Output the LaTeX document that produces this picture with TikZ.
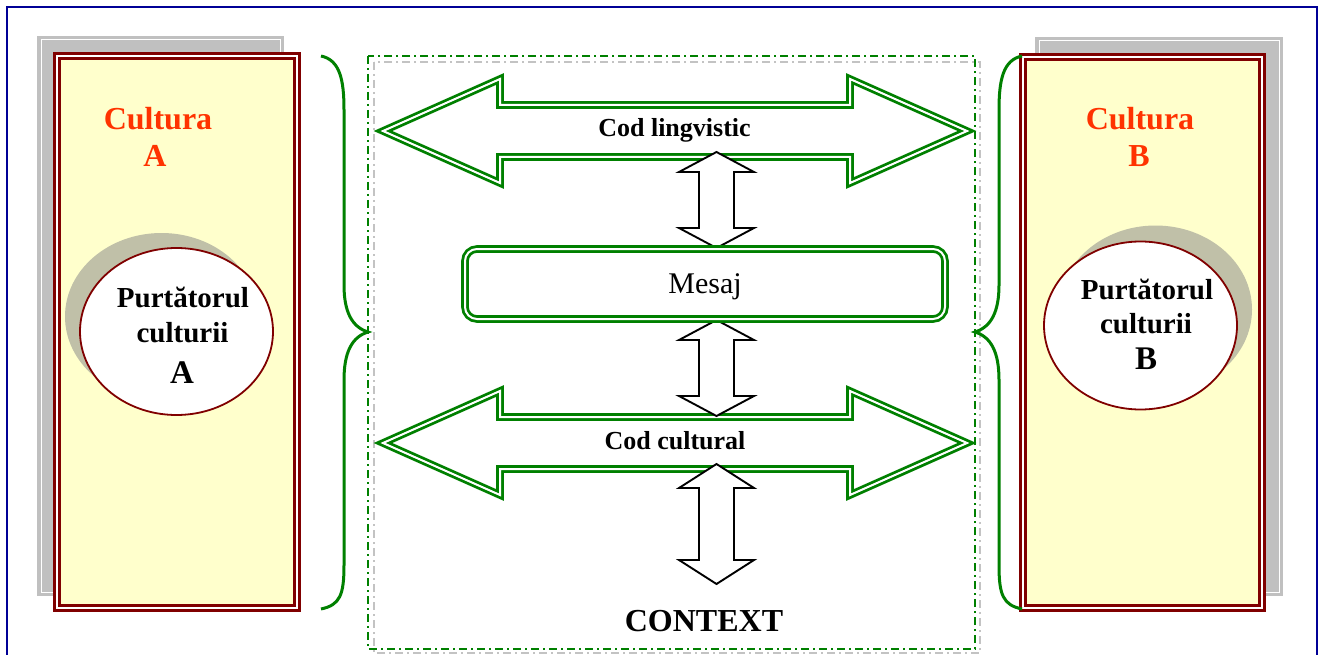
\documentclass[tikz,border=0pt]{standalone}
\usepackage{fontspec}
\setmainfont{Liberation Serif}
\usetikzlibrary{shapes.geometric}

\definecolor{frameblue}{RGB}{0,0,150}
\definecolor{panelred}{RGB}{128,0,0}
\definecolor{panelfill}{RGB}{255,255,204}
\definecolor{titlered}{RGB}{255,51,0}
\definecolor{panelshade}{RGB}{192,192,192}
\definecolor{bubbleshade}{RGB}{192,192,168}
\definecolor{codegreen}{RGB}{0,128,0}
\definecolor{zonegray}{RGB}{195,195,195}

% horizontal double-headed code arrow centred on height #1
\newcommand{\codearrow}[1]{%
  \draw[codearrow] (383,#1) -- (500,#1-52) -- (500,#1-26) -- (850,#1-26)
    -- (850,#1-52) -- (967,#1) -- (850,#1+52) -- (850,#1+26)
    -- (500,#1+26) -- (500,#1+52) -- cycle;}
% vertical double-headed link arrow: top tip #1, bottom tip #2, head length #3
\newcommand{\linkarrow}[3]{%
  \draw[linkarrow] (716.5,#1) -- (754,#1+#3) -- (734,#1+#3) -- (734,#2-#3)
    -- (754,#2-#3) -- (716.5,#2) -- (679,#2-#3) -- (699,#2-#3)
    -- (699,#1+#3) -- (679,#1+#3) -- cycle;}

\begin{document}
\begin{tikzpicture}[x=1pt,y=-1pt,
  panelback/.style={fill=panelshade},
  panelline/.style={draw=white, line width=1pt},
  panel/.style={draw=panelred, line width=3.2pt, double=white, double distance=2pt, fill=panelfill},
  bubble/.style={ellipse, draw=panelred, line width=1.8pt, fill=white, inner sep=0pt,
    minimum width=193pt, minimum height=167pt},
  zone/.style={line width=2.6pt, dash pattern=on 8pt off 4pt on 2pt off 4pt},
  brace/.style={draw=codegreen, line width=3pt},
  codearrow/.style={draw=codegreen, line width=2.8pt, double=white, double distance=2pt, line join=miter},
  linkarrow/.style={draw=black, line width=1.9pt, fill=white, line join=miter},
  msgbox/.style={draw=codegreen, line width=2.8pt, double=white, double distance=2pt,
    rounded corners=12pt, minimum width=480pt, minimum height=70pt, inner sep=0pt},
  culture/.style={text=titlered, font=\fontsize{32}{36}\selectfont\bfseries, anchor=base, inner sep=0pt},
  carrier/.style={font=\fontsize{29}{33}\selectfont\bfseries, anchor=base, inner sep=0pt},
  carrierletter/.style={font=\fontsize{33}{37}\selectfont\bfseries, anchor=base, inner sep=0pt},
  codelabel/.style={font=\fontsize{26}{30}\selectfont\bfseries, anchor=base, inner sep=0pt}
]
\useasboundingbox (0,0) rectangle (1324,655);

% outer frame
\draw[frameblue, line width=2.8pt] (7,656) -- (7,7) -- (1317,7) -- (1317,656);

% central zone
\draw[zone, zonegray] (374,62) rectangle (980,653);
\draw[zone, codegreen] (368,56) rectangle (975,649);

% culture A panel
\fill[panelback] (37,36) rectangle (284,596);
\draw[panelline] (41,40) rectangle (280,592);
\draw[panel] (57,56) rectangle (297,608);
\node[culture] (cultA) at (158,130) {Cultura};
\node[culture] (cultAletter) at (155,167) {A};
\fill[bubbleshade] (161.5,316.5) ellipse [x radius=96.5, y radius=83.5];
\node[bubble] (carrierA) at (176.5,331.5) {};
\node[carrier] (carrierAl1) at (183,307) {Purtătorul};
\node[carrier] (carrierAl2) at (182.5,342) {culturii};
\node[carrierletter] (carrierAl3) at (182,383) {A};

% culture B panel
\fill[panelback] (1035,37) rectangle (1283,596);
\draw[panelline] (1039,41) rectangle (1279,592);
\draw[panel] (1023,57) rectangle (1262,608);
\node[culture] (cultB) at (1140,130) {Cultura};
\node[culture] (cultBletter) at (1139,167) {B};
\fill[bubbleshade] (1155.5,309.5) ellipse [x radius=96.5, y radius=84];
\node[bubble, minimum height=168pt] (carrierB) at (1140.5,325.5) {};
\node[carrier] (carrierBl1) at (1147,299) {Purtătorul};
\node[carrier] (carrierBl2) at (1146,333) {culturii};
\node[carrierletter] (carrierBl3) at (1146,369) {B};

% braces
\draw[brace] (321,56) .. controls (340,60) and (344,80) .. (344,110) -- (344,285)
  .. controls (344,312) and (352,327) .. (368,332)
  .. controls (352,337) and (344,352) .. (344,380) -- (344,565)
  .. controls (344,595) and (340,605) .. (321,609);
\draw[brace] (1022,56) .. controls (1003,60) and (999,80) .. (999,110) -- (999,285)
  .. controls (999,312) and (991,327) .. (975,332)
  .. controls (991,337) and (999,352) .. (999,380) -- (999,565)
  .. controls (999,595) and (1003,605) .. (1022,609);

% codes
\codearrow{131}
\codearrow{443}
\node[codelabel] (lingv) at (674.5,137) {Cod lingvistic};
\node[codelabel] (cultural) at (675,449) {Cod cultural};

% links between codes, message and context
\linkarrow{152}{248}{20}
\linkarrow{320}{416}{20}
\linkarrow{464}{584}{24}

% message
\node[msgbox] (mesaj) at (705,284) {};
\node[anchor=base, inner sep=0pt, font=\fontsize{30}{34}\selectfont] (mesajtext) at (705,293) {Mesaj};

% context
\node[anchor=base, inner sep=0pt, font=\fontsize{32}{36}\selectfont\bfseries] (context) at (704,631) {CONTEXT};
\end{tikzpicture}
\end{document}
